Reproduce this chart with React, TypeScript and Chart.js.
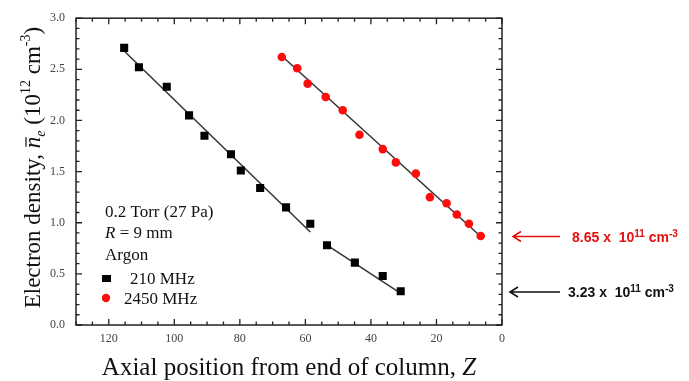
import React, { useEffect, useRef } from "react";
import { Chart, registerables } from "chart.js";

Chart.register(...registerables);

// Axial position (cm from end of column) and mean electron density (10^12 cm^-3)
const z210 = [115.3, 110.8, 102.3, 95.5, 90.8, 82.7, 79.7, 73.8, 65.9, 58.5, 53.4, 44.9, 36.4, 30.9];
const n210 = [2.71, 2.52, 2.33, 2.05, 1.85, 1.67, 1.51, 1.34, 1.15, 0.99, 0.78, 0.61, 0.48, 0.33];
const z2450 = [67.2, 62.5, 59.3, 53.8, 48.6, 43.5, 36.4, 32.4, 26.3, 22.0, 16.9, 13.8, 10.1, 6.5];
const n2450 = [2.62, 2.51, 2.36, 2.23, 2.1, 1.86, 1.72, 1.59, 1.48, 1.25, 1.19, 1.08, 0.99, 0.87];

// Linear fits: [z, n] end points
const fit210a = [[115.3, 2.68], [58.5, 0.91]];
const fit210b = [[53.4, 0.78], [30.9, 0.31]];
const fit2450 = [[67.2, 2.63], [6.3, 0.86]];

const xTicks = [0, 20, 40, 60, 80, 100, 120];
const yTicks = [0, 0.5, 1, 1.5, 2, 2.5, 3];

// End-of-column densities: [value, mantissa, colour]
const endValues = [0.865, 0.323];
const endLabels = ["8.65", "3.23"];
const endColors = ["#e31010", "#111111"];

const infoLines = ["0.2 Torr (27 Pa)", "R = 9 mm", "Argon"];
const seriesNames = ["210 MHz", "2450 MHz"];

const SERIF = "'Liberation Serif', 'DejaVu Serif', serif";
const SANS = "'Liberation Sans', Arial, sans-serif";

type Seg = { t: string; font: string; dy?: number; over?: number };

function segWidth(ctx: CanvasRenderingContext2D, segs: Seg[]) {
  let w = 0;
  for (const s of segs) {
    ctx.font = s.font;
    w += ctx.measureText(s.t).width;
  }
  return w;
}

function drawSegs(ctx: CanvasRenderingContext2D, segs: Seg[], x: number, y: number) {
  let cx = x;
  for (const s of segs) {
    ctx.font = s.font;
    const w = ctx.measureText(s.t).width;
    ctx.fillText(s.t, cx, y + (s.dy || 0));
    if (s.over) {
      ctx.save();
      ctx.lineWidth = 1.2;
      ctx.strokeStyle = ctx.fillStyle as string;
      ctx.beginPath();
      ctx.moveTo(cx + 1.5, y - s.over);
      ctx.lineTo(cx + w - 0.5, y - s.over);
      ctx.stroke();
      ctx.restore();
    }
    cx += w;
  }
  return cx;
}

const framePlugin = {
  id: "frame",
  afterDraw(chart: any) {
    const ctx: CanvasRenderingContext2D = chart.ctx;
    const { left, right, top, bottom } = chart.chartArea;
    const xs = chart.scales.x;
    const ys = chart.scales.y;
    ctx.save();
    ctx.strokeStyle = "#222";
    ctx.lineWidth = 1.5;
    ctx.strokeRect(left, top, right - left, bottom - top);

    // inward tick marks on all four sides
    ctx.lineWidth = 1.3;
    ctx.beginPath();
    for (let v = 0; v <= 130; v += 5) {
      const px = xs.getPixelForValue(v);
      const len = v % 20 === 0 ? 6 : 3.5;
      ctx.moveTo(px, bottom);
      ctx.lineTo(px, bottom - len);
      ctx.moveTo(px, top);
      ctx.lineTo(px, top + len);
    }
    for (let i = 0; i <= 30; i++) {
      const v = i / 10;
      const py = ys.getPixelForValue(v);
      const len = i % 5 === 0 ? 6 : 3.5;
      ctx.moveTo(left, py);
      ctx.lineTo(left + len, py);
      ctx.moveTo(right, py);
      ctx.lineTo(right - len, py);
    }
    ctx.stroke();

    // axis titles
    ctx.fillStyle = "#111";
    ctx.textBaseline = "alphabetic";
    const xt: Seg[] = [
      { t: "Axial position from end of column, ", font: `25px ${SERIF}` },
      { t: "Z", font: `italic 25px ${SERIF}` },
    ];
    const xw = segWidth(ctx, xt);
    drawSegs(ctx, xt, (left + right) / 2 - xw / 2, 375);

    const f = `23px ${SERIF}`;
    const fi = `italic 23px ${SERIF}`;
    const fs = `14px ${SERIF}`;
    const fsi = `italic 14px ${SERIF}`;
    const yt: Seg[] = [
      { t: "Electron density, ", font: f },
      { t: "n", font: fi, over: 14 },
      { t: "e", font: fsi, dy: 5 },
      { t: " (10", font: f },
      { t: "12", font: fs, dy: -10 },
      { t: " cm", font: f },
      { t: "-3", font: fs, dy: -10 },
      { t: ")", font: f },
    ];
    const yw = segWidth(ctx, yt);
    ctx.save();
    ctx.translate(40, (top + bottom) / 2 - 4);
    ctx.rotate(-Math.PI / 2);
    drawSegs(ctx, yt, -yw / 2, 0);
    ctx.restore();

    // condition block inside the plot
    ctx.fillStyle = "#111";
    const fb17 = `17px ${SERIF}`;
    const bx = left + 29;
    drawSegs(ctx, [{ t: infoLines[0], font: fb17 }], bx, 217);
    drawSegs(ctx, [{ t: "R", font: `italic 17px ${SERIF}` }, { t: infoLines[1].slice(1), font: fb17 }], bx, 238);
    drawSegs(ctx, [{ t: infoLines[2], font: fb17 }], bx, 260);
    ctx.fillStyle = "#000";
    ctx.fillRect(bx - 3, 275, 9, 7);
    ctx.fillStyle = "#111";
    drawSegs(ctx, [{ t: seriesNames[0], font: fb17 }], bx + 25, 284);
    ctx.fillStyle = "#ff0d0d";
    ctx.beginPath();
    ctx.arc(bx + 1, 298, 4.2, 0, Math.PI * 2);
    ctx.fill();
    ctx.fillStyle = "#111";
    drawSegs(ctx, [{ t: seriesNames[1], font: fb17 }], bx + 19, 304);

    // end-of-column values with arrows
    endValues.forEach((v, i) => {
      const py = ys.getPixelForValue(v);
      const c = endColors[i];
      const x0 = right + 8 + (i === 0 ? 3 : 0);
      const x1 = right + 58;
      ctx.strokeStyle = c;
      ctx.lineWidth = 1.6;
      ctx.beginPath();
      ctx.moveTo(x1, py);
      ctx.lineTo(x0, py);
      ctx.moveTo(x0 + 8, py - 5);
      ctx.lineTo(x0, py);
      ctx.lineTo(x0 + 8, py + 5);
      ctx.stroke();
      ctx.fillStyle = c;
      const fb = `bold 14px ${SANS}`;
      const fbs = `bold 10px ${SANS}`;
      drawSegs(
        ctx,
        [
          { t: endLabels[i] + " x  ", font: fb },
          { t: "10", font: fb },
          { t: "11", font: fbs, dy: -5 },
          { t: " cm", font: fb },
          { t: "-3", font: fbs, dy: -5 },
        ],
        right + 70 - (i === 0 ? 0 : 4),
        py + 5
      );
    });
    ctx.restore();
  },
};

function toPts(xs: number[], ys: number[]) {
  return xs.map((x, i) => ({ x, y: ys[i] }));
}
function fitPts(f: number[][]) {
  return f.map(([x, y]) => ({ x, y }));
}

export default function App() {
  const ref = useRef<HTMLCanvasElement | null>(null);
  useEffect(() => {
    if (!ref.current) return;
    const lineDs = (data: any) => ({
      type: "line" as const,
      data,
      borderColor: "#333",
      borderWidth: 1.5,
      pointRadius: 0,
      showLine: true,
      fill: false,
      order: 2,
    });
    const chart = new Chart(ref.current, {
      type: "scatter",
      data: {
        datasets: [
          {
            label: seriesNames[0],
            data: toPts(z210, n210),
            pointStyle: "rect",
            pointRadius: 5.7,
            backgroundColor: "#000",
            borderColor: "#000",
            borderWidth: 0,
            order: 1,
          },
          {
            label: seriesNames[1],
            data: toPts(z2450, n2450),
            pointStyle: "circle",
            pointRadius: 4.3,
            backgroundColor: "#ff0d0d",
            borderColor: "#ff0d0d",
            borderWidth: 0,
            order: 1,
          },
          lineDs(fitPts(fit210a)) as any,
          lineDs(fitPts(fit210b)) as any,
          lineDs(fitPts(fit2450)) as any,
        ],
      },
      options: {
        responsive: false,
        animation: false,
        devicePixelRatio: 1,
        layout: { padding: { left: 0, top: 12, right: 187, bottom: 0 } },
        plugins: { legend: { display: false }, tooltip: { enabled: false } },
        scales: {
          x: {
            type: "linear",
            min: 0,
            max: 130,
            reverse: true,
            grid: { display: false, drawTicks: false },
            border: { display: false },
            afterBuildTicks: (s: any) => {
              s.ticks = xTicks.map((value) => ({ value }));
            },
            afterFit: (s: any) => {
              s.height = 56;
            },
            ticks: {
              padding: 7,
              color: "#444",
              font: { family: SERIF, size: 12 },
              maxRotation: 0,
              callback: (v: any) => String(v),
            },
          },
          y: {
            type: "linear",
            min: 0,
            max: 3,
            grid: { display: false, drawTicks: false },
            border: { display: false },
            afterBuildTicks: (s: any) => {
              s.ticks = yTicks.map((value) => ({ value }));
            },
            afterFit: (s: any) => {
              s.width = 76;
            },
            ticks: {
              padding: 11,
              color: "#444",
              font: { family: SERIF, size: 12 },
              callback: (v: any) => Number(v).toFixed(1),
            },
          },
        },
      },
      plugins: [framePlugin],
    });
    return () => chart.destroy();
  }, []);
  return (
    <div style={{ position: "absolute", left: 0, top: 0, width: 689, height: 381, background: "#fff" }}>
      <canvas ref={ref} width={689} height={381} />
    </div>
  );
}
